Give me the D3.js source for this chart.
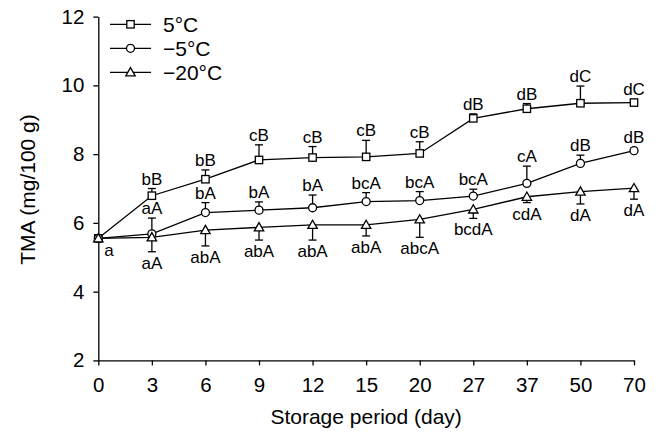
<!DOCTYPE html>
<html>
<head>
<meta charset="utf-8">
<script src="https://cdn.jsdelivr.net/npm/d3@7"></script>
<style>
  html, body { margin: 0; padding: 0; background: #fff; }
  svg { display: block; font-family: "Liberation Sans", Arial, sans-serif; }
</style>
</head>
<body>
<svg id="chart" width="662" height="432"></svg>
<script>
// ---- data ----
const days = ["0", "3", "6", "9", "12", "15", "20", "27", "37", "50", "70"];
const yTicks = [2, 4, 6, 8, 10, 12];

const seriesNames = ["5\u00B0C", "\u22125\u00B0C", "\u221220\u00B0C"];

const val5 = [5.55, 6.79, 7.27, 7.83, 7.90, 7.92, 8.02, 9.04, 9.32, 9.48, 9.50];
const err5 = [0, 0.21, 0.27, 0.44, 0.32, 0.48, 0.34, 0.13, 0.15, 0.50, 0.05];
const lab5 = ["", "bB", "bB", "cB", "cB", "cB", "cB", "dB", "dB", "dC", "dC"];

const valM5 = [5.55, 5.68, 6.30, 6.37, 6.44, 6.62, 6.65, 6.78, 7.15, 7.73, 8.10];
const errM5 = [0, 0.46, 0.29, 0.24, 0.37, 0.26, 0.26, 0.20, 0.50, 0.24, 0.07];
const labM5 = ["", "aA", "bA", "bA", "bA", "bcA", "bcA", "bcA", "cA", "dB", "dB"];

const valM20 = [5.55, 5.58, 5.79, 5.87, 5.94, 5.94, 6.10, 6.39, 6.76, 6.91, 7.01];
const errM20 = [0, 0.42, 0.46, 0.37, 0.44, 0.32, 0.52, 0.26, 0.17, 0.36, 0.32];
const labM20 = ["a", "aA", "abA", "abA", "abA", "abA", "abcA", "bcdA", "cdA", "dA", "dA"];

const series = [
  { name: seriesNames[0], values: val5, errs: err5, labels: lab5, marker: "square", dir: 1 },
  { name: seriesNames[1], values: valM5, errs: errM5, labels: labM5, marker: "circle", dir: 1 },
  { name: seriesNames[2], values: valM20, errs: errM20, labels: labM20, marker: "triangle", dir: -1 }
];

// ---- layout ----
const svg = d3.select("#chart");
const x = d3.scalePoint().domain(days).range([98.3, 634]);
const y = d3.scaleLinear().domain([2, 12]).range([360.4, 16.6]);
const SW = 1.3;

// axes
const xAxis = svg.append("g")
  .attr("transform", `translate(0,${y(2)})`)
  .call(d3.axisBottom(x).tickSize(5).tickSizeOuter(0).tickPadding(12));
const yAxis = svg.append("g")
  .attr("transform", `translate(${x("0")},0)`)
  .call(d3.axisLeft(y).tickValues(yTicks).tickSize(5).tickSizeOuter(0).tickPadding(9));
[xAxis, yAxis].forEach(g => {
  g.selectAll("path, line").attr("stroke", "#000").attr("stroke-width", SW);
  g.selectAll("text").attr("fill", "#000").attr("font-size", 20.5)
    .attr("font-family", "'Liberation Sans', Arial, sans-serif");
});

// axis titles
svg.append("text")
  .attr("x", (x("0") + x("70")) / 2).attr("y", 424)
  .attr("text-anchor", "middle").attr("font-size", 21)
  .text("Storage period (day)");
svg.append("text")
  .attr("transform", `translate(27.5,${(y(2) + y(12)) / 2 + 1}) rotate(-90)`)
  .attr("text-anchor", "middle").attr("dy", "0.35em").attr("font-size", 21)
  .text("TMA (mg/100 g)");

// marker drawing
function drawMarker(g, type, cx, cy) {
  if (type === "square") {
    g.append("rect").attr("x", cx - 3.7).attr("y", cy - 3.7)
      .attr("width", 7.4).attr("height", 7.4)
      .attr("fill", "#fff").attr("stroke", "#000").attr("stroke-width", SW);
  } else if (type === "circle") {
    g.append("circle").attr("cx", cx).attr("cy", cy).attr("r", 4)
      .attr("fill", "#fff").attr("stroke", "#000").attr("stroke-width", SW);
  } else {
    const s = 4.7;
    g.append("path")
      .attr("d", `M${cx},${cy - s}L${cx + s},${cy + s * 0.75}L${cx - s},${cy + s * 0.75}Z`)
      .attr("fill", "#fff").attr("stroke", "#000").attr("stroke-width", SW);
  }
}

const line = d3.line().x((d, i) => x(days[i])).y(d => y(d));
const plot = svg.append("g");

// error bars
series.forEach(s => {
  const g = plot.append("g");
  s.values.forEach((v, i) => {
    if (!s.errs[i]) return;
    const cx = x(days[i]);
    const yEnd = y(v + s.dir * s.errs[i]);
    g.append("line").attr("x1", cx).attr("x2", cx).attr("y1", y(v)).attr("y2", yEnd)
      .attr("stroke", "#000").attr("stroke-width", SW);
    g.append("line").attr("x1", cx - 4).attr("x2", cx + 4).attr("y1", yEnd).attr("y2", yEnd)
      .attr("stroke", "#000").attr("stroke-width", SW);
  });
});

// lines
series.forEach(s => {
  plot.append("path").datum(s.values).attr("d", line)
    .attr("fill", "none").attr("stroke", "#000").attr("stroke-width", SW);
});

// markers
series.forEach(s => {
  const g = plot.append("g");
  s.values.forEach((v, i) => drawMarker(g, s.marker, x(days[i]), y(v)));
});

// letter labels
series.forEach(s => {
  const g = plot.append("g").attr("font-size", 17);
  s.values.forEach((v, i) => {
    const t = s.labels[i];
    if (!t) return;
    const cx = x(days[i]);
    if (i === 0) {
      g.append("text").attr("x", cx + 6).attr("y", y(v) + 18).attr("text-anchor", "start").text(t);
      return;
    }
    if (s.dir > 0) {
      const top = Math.min(y(v + s.errs[i]), y(v) - 4);
      g.append("text").attr("x", cx).attr("y", top - 4).attr("text-anchor", "middle").text(t);
    } else {
      const bot = Math.max(y(v - s.errs[i]), y(v) + 4);
      g.append("text").attr("x", cx).attr("y", bot + 17).attr("text-anchor", "middle").text(t);
    }
  });
});

// legend
const legRows = [24.3, 48.3, 72.3];
series.forEach((s, k) => {
  const g = svg.append("g");
  g.append("line").attr("x1", 110).attr("x2", 151).attr("y1", legRows[k]).attr("y2", legRows[k])
    .attr("stroke", "#000").attr("stroke-width", SW);
  drawMarker(g, s.marker, 130.5, legRows[k]);
  g.append("text").attr("x", 163).attr("y", legRows[k]).attr("dy", "0.35em")
    .attr("font-size", 21).text(s.name);
});
</script>
</body>
</html>
